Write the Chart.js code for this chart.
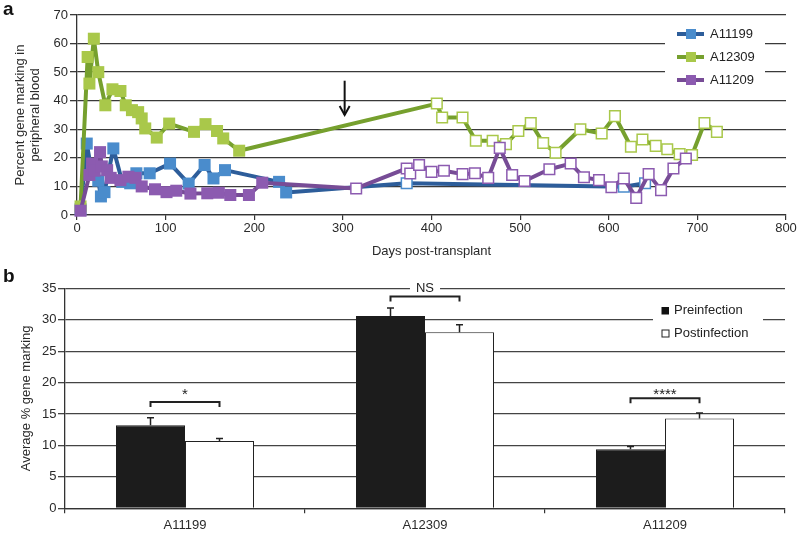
<!DOCTYPE html>
<html><head><meta charset="utf-8">
<script src="https://cdn.jsdelivr.net/npm/chart.js@4"></script>
<style>
html,body{margin:0;padding:0;background:#fff;}
#wrap{position:relative;width:800px;height:533px;overflow:hidden;background:#fff;}
#c1{position:absolute;left:0;top:0;}
#c2{position:absolute;left:0;top:258px;}
</style></head><body>
<div id="wrap">
<canvas id="c1" width="800" height="265"></canvas>
<canvas id="c2" width="800" height="275"></canvas>
</div>
<script>
// ---------- Panel a data ----------
const xTickStep = 100;
const infectionDay = 300;
const arrowDay = 302, arrowTop = 47, arrowBottom = 35;

const A11199_days = [4, 11, 17, 24, 27, 31, 41, 51, 60, 67, 82, 105, 126, 144, 154, 167, 228, 236, 372, 617, 641];
const A11199_pct  = [2, 25, 14.5, 12, 6.5, 8, 23.3, 11.6, 11.1, 14.6, 14.6, 18, 11, 17.5, 12.8, 15.7, 11.6, 7.9, 11.1, 9.9, 11.1];

const A12309_days = [4, 12, 14, 19, 24, 32, 40, 49, 55, 62, 69, 73, 77, 90, 104, 132, 145, 158, 165, 183,
                     406, 412, 435, 450, 469, 484, 498, 512, 526, 540, 568, 592, 607, 625, 638, 653, 666, 680, 694, 708, 722];
const A12309_pct  = [3, 55.3, 46, 61.7, 50, 38.4, 44, 43.4, 38.4, 36.7, 36, 33.8, 30.3, 27.1, 32, 29.1, 31.8, 29.4, 26.8, 22.5,
                     39, 34.1, 34.1, 26, 26, 24.8, 29.4, 32.2, 25.2, 21.8, 30, 28.5, 34.6, 23.9, 26.4, 24.2, 23, 21.3, 21, 32.2, 29.1];

const A11209_days = [4, 14, 17, 20, 26, 28, 34, 38, 49, 58, 66, 73, 88, 101, 112, 128, 147, 160, 173, 194, 209,
                     315, 372, 376, 386, 400, 414, 435, 449, 464, 477, 491, 505, 533, 557, 572, 589, 603, 617, 631, 645, 659, 673, 687];
const A11209_pct  = [1.5, 14, 18, 15.5, 22, 17, 15.7, 13, 12.2, 13.4, 13, 10, 9, 8, 8.5, 7.5, 7.6, 7.8, 7, 7, 11.3,
                     9.3, 16.3, 14.5, 17.5, 15.1, 15.5, 14.3, 14.6, 13, 23.5, 14, 11.9, 16, 18, 13.2, 12.2, 9.7, 12.8, 6, 14.3, 8.7, 16.3, 19.8];

// ---------- Panel b data ----------
const categories = ['A11199', 'A12309', 'A11209'];
const preMean  = [13.2, 30.6, 9.4];
const preErr   = [1.2, 1.25, 0.45];
const postMean = [10.7, 28.0, 14.3];
const postErr  = [0.4, 1.2, 0.85];
const sigLabels = ['*', 'NS', '****'];
const sigLevel  = [16.9, 33.7, 17.5];
const sigTextLevel = [18.0, 35, 18.1];

const F = '"Liberation Sans", Arial, Helvetica, sans-serif';
Chart.defaults.font.family = F;
Chart.defaults.font.size = 13;
Chart.defaults.color = '#2a2a2a';

const topSeries = [
  {name:'A11199', days:A11199_days, pct:A11199_pct, line:'#2d5d9a', mark:'#4a8ccc', order:3},
  {name:'A12309', days:A12309_days, pct:A12309_pct, line:'#76a02e', mark:'#a9c84a', order:2},
  {name:'A11209', days:A11209_days, pct:A11209_pct, line:'#774c96', mark:'#8c5bb0', order:1}
];
const isPost = c => c.raw && c.raw.x > infectionDay;

const topExtras = {
  id:'topExtras',
  afterDraw(chart){
    const ctx = chart.ctx, xs = chart.scales.x, ys = chart.scales.y;
    ctx.save();
    // arrow
    const ax = xs.getPixelForValue(arrowDay);
    const ay1 = ys.getPixelForValue(arrowTop), ay2 = ys.getPixelForValue(arrowBottom);
    ctx.strokeStyle = '#111'; ctx.lineWidth = 2;
    ctx.beginPath(); ctx.moveTo(ax, ay1); ctx.lineTo(ax, ay2); ctx.stroke();
    ctx.beginPath(); ctx.moveTo(ax-5, ay2-9); ctx.lineTo(ax, ay2); ctx.lineTo(ax+5, ay2-9); ctx.stroke();
    // legend
    ctx.fillStyle = '#fff';
    ctx.fillRect(665, 22, 100, 70);
    topSeries.forEach((s, i) => {
      const y = 34 + i*23;
      ctx.strokeStyle = s.line; ctx.lineWidth = 4;
      ctx.beginPath(); ctx.moveTo(677, y); ctx.lineTo(704, y); ctx.stroke();
      ctx.fillStyle = s.mark; ctx.fillRect(686, y-5, 10, 10);
      ctx.fillStyle = '#222'; ctx.font = '13px ' + F; ctx.textBaseline = 'middle'; ctx.textAlign = 'left';
      ctx.fillText(s.name, 710, y);
    });
    // panel label
    ctx.fillStyle = '#111'; ctx.font = 'bold 19px ' + F; ctx.textBaseline = 'alphabetic';
    ctx.fillText('a', 3, 15);
    ctx.restore();
  }
};

new Chart(document.getElementById('c1'), {
  type:'line',
  data:{datasets: topSeries.map(s => ({
    label:s.name,
    data:s.days.map((d, i) => ({x:d, y:s.pct[i]})),
    borderColor:s.line, borderWidth:4, tension:0, order:s.order, clip:false,
    borderJoinStyle:'round', borderCapStyle:'round',
    pointStyle:'rect',
    pointRadius: c => isPost(c) ? 7.5 : 8.5,
    pointHoverRadius: c => isPost(c) ? 7.5 : 8.5,
    pointBackgroundColor: c => isPost(c) ? '#ffffff' : s.mark,
    pointBorderColor: s.mark,
    pointBorderWidth: c => isPost(c) ? 1.5 : 0
  }))},
  options:{
    responsive:false, animation:false, events:[],
    layout:{padding:{top:15, right:14, left:0, bottom:0}},
    plugins:{legend:{display:false}, tooltip:{enabled:false}},
    scales:{
      x:{type:'linear', min:0, max:800,
        ticks:{stepSize:xTickStep, padding:1, maxRotation:0, color:'#2a2a2a'},
        grid:{drawOnChartArea:false, tickLength:5, color:'#333', lineWidth:1.2},
        border:{color:'#333', width:1.3},
        title:{display:true, text:'Days post-transplant', color:'#2a2a2a', padding:{top:0, bottom:5.5}},
        afterFit: s => { s.height = 50; }
      },
      y:{min:0, max:70,
        ticks:{stepSize:10, padding:2, color:'#2a2a2a'},
        grid:{color:'#3a3a3a', lineWidth:1.3, tickLength:7},
        border:{color:'#333', width:1.3},
        title:{display:true, text:['Percent gene marking in', 'peripheral blood'], color:'#2a2a2a',
               font:{size:13, lineHeight:1.154}, padding:{top:12.5, bottom:0}},
        afterFit: s => { s.width = 77; }
      }
    }
  },
  plugins:[topExtras]
});

// ---------- Panel b ----------
const bottomExtras = {
  id:'bottomExtras',
  afterDatasetsDraw(chart){
    const ctx = chart.ctx, ys = chart.scales.y;
    const m0 = chart.getDatasetMeta(0).data, m1 = chart.getDatasetMeta(1).data;
    ctx.save();
    // error bars
    ctx.strokeStyle = '#222'; ctx.lineWidth = 1.5;
    const errs = [[preMean, preErr, m0], [postMean, postErr, m1]];
    errs.forEach(([mean, err, meta]) => {
      meta.forEach((bar, i) => {
        const yTop = ys.getPixelForValue(mean[i] + err[i]);
        ctx.beginPath(); ctx.moveTo(bar.x, bar.y); ctx.lineTo(bar.x, yTop);
        ctx.moveTo(bar.x - 3.5, yTop); ctx.lineTo(bar.x + 3.5, yTop); ctx.stroke();
      });
    });
    // brackets and labels
    categories.forEach((c, i) => {
      const x1 = m0[i].x, x2 = m1[i].x;
      const yb = ys.getPixelForValue(sigLevel[i]);
      ctx.strokeStyle = '#222'; ctx.lineWidth = 2;
      ctx.beginPath(); ctx.moveTo(x1, yb + 5); ctx.lineTo(x1, yb); ctx.lineTo(x2, yb); ctx.lineTo(x2, yb + 5); ctx.stroke();
      const xm = (x1 + x2) / 2, yt = ys.getPixelForValue(sigTextLevel[i]);
      const isNS = sigLabels[i] === 'NS';
      ctx.font = (isNS ? '13px ' : '15px ') + F; ctx.textAlign = 'center'; ctx.textBaseline = 'middle';
      const w = ctx.measureText(sigLabels[i]).width;
      if (isNS) { ctx.fillStyle = '#fff'; ctx.fillRect(xm - w/2 - 6, yt - 7, w + 12, 13); }
      ctx.fillStyle = '#222';
      ctx.fillText(sigLabels[i], xm, yt);
    });
    // legend
    ctx.fillStyle = '#fff'; ctx.fillRect(653, 40, 110, 47);
    ctx.fillStyle = '#111'; ctx.fillRect(661.5, 49, 7.5, 7.5);
    ctx.strokeStyle = '#222'; ctx.lineWidth = 1; ctx.strokeRect(662, 72, 7, 7);
    ctx.fillStyle = '#222'; ctx.font = '13px ' + F; ctx.textAlign = 'left'; ctx.textBaseline = 'middle';
    ctx.fillText('Preinfection', 674, 52.7);
    ctx.fillText('Postinfection', 674, 75.3);
    ctx.fillStyle = '#111'; ctx.font = 'bold 19px ' + F; ctx.textBaseline = 'alphabetic';
    ctx.fillText('b', 3, 24);
    ctx.restore();
  }
};

new Chart(document.getElementById('c2'), {
  type:'bar',
  data:{labels:categories, datasets:[
    {label:'Preinfection', data:preMean, backgroundColor:'#1c1c1c', borderColor:'#1c1c1c', borderWidth:1,
     categoryPercentage:0.575, barPercentage:1},
    {label:'Postinfection', data:postMean, backgroundColor:'#ffffff', borderColor:'#222', borderWidth:1,
     categoryPercentage:0.575, barPercentage:1}
  ]},
  options:{
    responsive:false, animation:false, events:[],
    layout:{padding:{top:30.3, right:15, left:0, bottom:0}},
    plugins:{legend:{display:false}, tooltip:{enabled:false}},
    scales:{
      x:{grid:{offset:true, drawOnChartArea:false, tickLength:5, color:'#333', lineWidth:1.2},
         border:{color:'#333', width:1.3},
         ticks:{padding:4.7, color:'#2a2a2a'},
         afterFit: s => { s.height = 24.7; }},
      y:{min:0, max:35,
         ticks:{stepSize:5, padding:1.5, color:'#2a2a2a'},
         grid:{color:'#444', lineWidth:1.3, tickLength:7},
         border:{color:'#333', width:1.3},
         title:{display:true, text:'Average % gene marking', color:'#2a2a2a', padding:{top:18.9, bottom:0}},
         afterFit: s => { s.width = 65; }}
    }
  },
  plugins:[bottomExtras]
});
</script>
</body></html>
